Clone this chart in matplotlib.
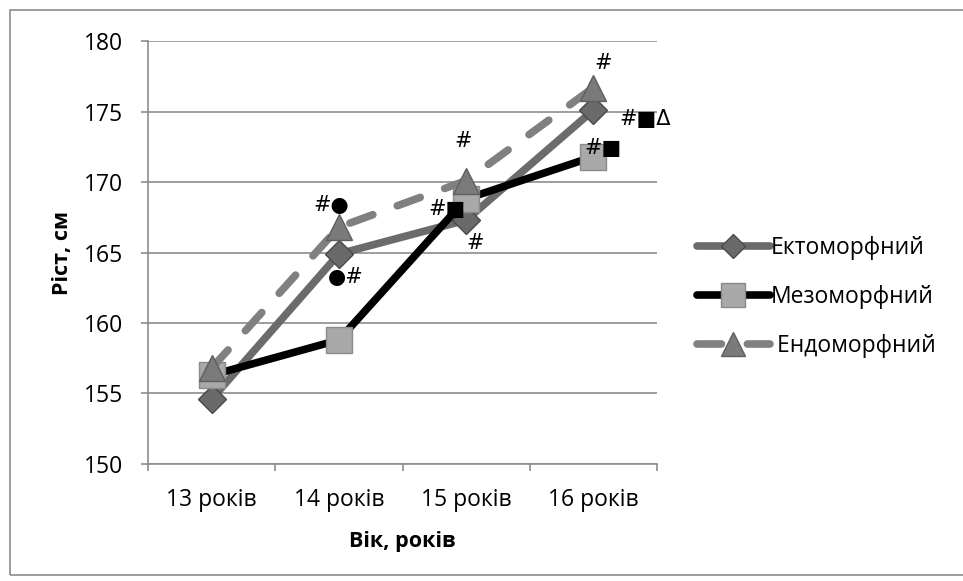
import matplotlib
matplotlib.use("Agg")
import matplotlib.pyplot as plt
from matplotlib.patches import Rectangle

# Growth by somatotype, 13-16 years
ages = ["13 років", "14 років", "15 років", "16 років"]
ecto = [154.6, 164.9, 167.3, 175.1]
meso = [156.3, 158.8, 168.8, 171.8]
endo = [156.8, 166.8, 170.1, 176.7]

# significance marks: (series, age index, text, dx, dy in pixels)
marks = [
    ("endo", 1, "#\u25cf", -8, 22),
    ("ecto", 1, "\u25cf#", 7, -23),
    ("endo", 2, "#", -3, 40),
    ("meso", 2, "#\u25a0", -19, -10),
    ("ecto", 2, "#", 9, -23),
    ("endo", 3, "#", 10, 25),
    ("ecto", 3, "#\u25a0\u0394", 52, -9),
    ("meso", 3, "#\u25a0", 10, 9),
]

plt.rcParams['font.family'] = ['Open Sans', 'DejaVu Sans']

fig = plt.figure(figsize=(9.63, 5.81), dpi=100)
ax = fig.add_axes([0.1537, 0.2014, 0.5286, 0.7280])

x = list(range(len(ages)))
series = {"ecto": ecto, "meso": meso, "endo": endo}

ax.plot(x, ecto, color="#6b6b6b", lw=5.5, solid_capstyle="round",
        marker="D", ms=14, mfc="#6a6a6a", mec="#4a4a4a", mew=1,
        label="Ектоморфний", zorder=3)
ax.plot(x, meso, color="black", lw=5.5, solid_capstyle="round",
        marker="s", ms=19, mfc="#a9a9a9", mec="#8a8a8a", mew=1,
        label="Мезоморфний", zorder=4)
ax.plot(x, endo, color="#808080", lw=5.5, ls=(0, (3.2, 3.4)),
        dash_capstyle="round", marker="^", ms=19, mfc="#7a7a7a",
        mec="#5e5e5e", mew=1, label=" Ендоморфний", zorder=5)

for key, i, txt, dx, dy in marks:
    ax.annotate(txt, xy=(i, series[key][i]), xytext=(dx, dy),
                textcoords="offset pixels", ha="center", va="center",
                fontsize=15, family=["DejaVu Sans"], zorder=6)

ax.set_xlim(-0.5, 3.5)
ax.set_ylim(150, 180)
ax.set_yticks(range(150, 181, 5))
ax.set_xticks(x)
ax.set_xticklabels(ages)
ax.set_xticks([-0.5, 0.5, 1.5, 2.5, 3.5], minor=True)
ax.tick_params(axis="x", which="major", length=0, pad=17, labelsize=16.5)
ax.tick_params(axis="x", which="minor", length=5, color="#8c8c8c", width=1.2)
ax.tick_params(axis="y", length=5, color="#8c8c8c", width=1.2, pad=13,
               labelsize=16.5)

ax.yaxis.grid(True, color="#8c8c8c", lw=1.2)
ax.set_axisbelow(True)
for side in ("top", "right"):
    ax.spines[side].set_visible(False)
for side in ("left", "bottom"):
    ax.spines[side].set_color("#8c8c8c")
    ax.spines[side].set_linewidth(1.2)

ax.set_ylabel("Ріст, см", fontsize=15.5, fontweight="bold", labelpad=8)
ax.set_xlabel("Вік, років", fontsize=15.5, fontweight="bold", labelpad=14)

leg = ax.legend(loc="center left", bbox_to_anchor=(1.078, 0.395),
                frameon=False, fontsize=16.5, handlelength=3.2,
                handletextpad=0.05, labelspacing=1.1, markerscale=0.9,
                borderaxespad=0, borderpad=0)

fig.patches.append(Rectangle((10 / 963, 6 / 581), 1.1, 1 - 16 / 581,
                             transform=fig.transFigure, fill=False,
                             ec="#8c8c8c", lw=1.2))

fig.savefig("out.png", dpi=100)
